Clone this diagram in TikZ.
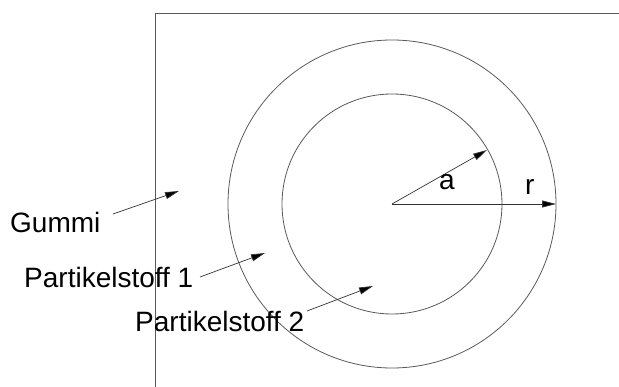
\documentclass[tikz,border=0pt]{standalone}
\usepackage{fontspec}
\setmainfont{Liberation Sans}
\usetikzlibrary{arrows.meta}
\begin{document}
\begin{tikzpicture}[x=1pt,y=-1pt,
  thinline/.style={draw=black!65,line width=0.8pt},
  pointer/.style={draw=black!80,line width=0.7pt,-{Triangle[length=14pt,width=7pt,fill=black]}},
  lbl/.style={inner sep=0pt,anchor=base west,font=\fontsize{28}{32}\selectfont},
]
\useasboundingbox (0,0) rectangle (619,387);
% frame
\coordinate (tl) at (155.5,13);
\coordinate (tr) at (619,13);
\coordinate (bl) at (155.5,387);
\draw[thinline] (bl) -- (tl) -- (tr);
% circles
\coordinate (c) at (392,204);
\draw[thinline] (c) circle[radius=164];
\draw[thinline] (c) circle[radius=110];
% radius arrows
\coordinate (atip) at (487,150);
\coordinate (rtip) at (556,204);
\draw[pointer] (c) -- (atip);
\draw[pointer] (c) -- (rtip);
\node[lbl] (la) at (439,190) {a};
\node[lbl] (lr) at (525,195) {r};
% labels
\node[lbl] (gummi) at (10,233) {Gummi};
\node[lbl] (p1) at (24,288) {Partikelstoff 1};
\node[lbl] (p2) at (135,332) {Partikelstoff 2};
\coordinate (g0) at (113,214);
\coordinate (g1) at (179,191);
\coordinate (p10) at (200,277);
\coordinate (p11) at (265,253);
\coordinate (p20) at (307,311);
\coordinate (p21) at (373,286);
\draw[pointer] (g0) -- (g1);
\draw[pointer] (p10) -- (p11);
\draw[pointer] (p20) -- (p21);
\end{tikzpicture}
\end{document}
